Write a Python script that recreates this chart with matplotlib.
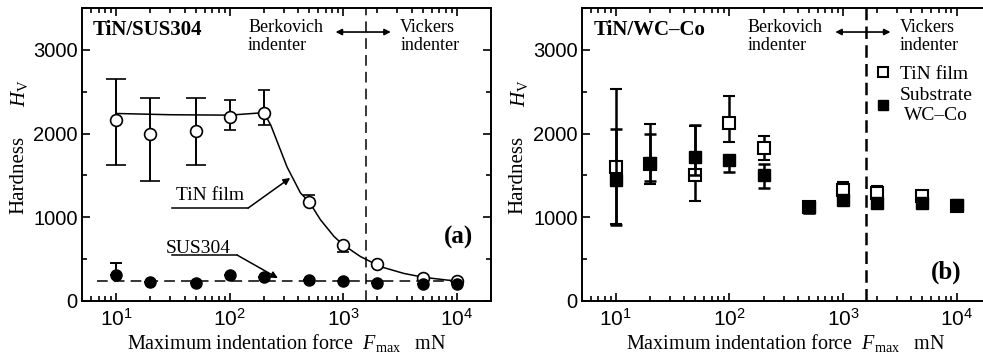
import matplotlib
matplotlib.use("Agg")
import matplotlib.pyplot as plt
from matplotlib.ticker import MultipleLocator, LogLocator, NullFormatter, FuncFormatter
import numpy as np

plt.rcParams['font.family'] = 'Liberation Serif'
plt.rcParams['mathtext.fontset'] = 'custom'
plt.rcParams['mathtext.rm'] = 'Liberation Serif'
plt.rcParams['mathtext.it'] = 'Liberation Serif:italic'
plt.rcParams['mathtext.bf'] = 'Liberation Serif:bold'
plt.rcParams['mathtext.sf'] = 'Liberation Sans'

# Data: maximum indentation force (mN)
force = [10, 20, 50, 100, 200, 500, 1000, 2000, 5000, 10000]

# (a) TiN/SUS304
tin_sus = [2160, 2000, 2030, 2200, 2245, 1180, 670, 440, 280, 240]
tin_sus_lo = [1620, 1435, 1630, 2045, 2105, 1180, 580, 440, 280, 240]
tin_sus_hi = [2650, 2430, 2420, 2405, 2515, 1265, 670, 440, 280, 240]
sus = [305, 230, 210, 305, 285, 250, 240, 220, 200, 200]
sus_hi = [450, 230, 210, 305, 285, 250, 240, 220, 200, 200]

# hand-drawn trend curve
fit_x = [10, 30, 100, 200, 230, 320, 420, 500, 630, 830, 1000, 1420, 2130, 3400, 5100, 8200, 10000]
fit_y = [2240, 2225, 2220, 2250, 2100, 1600, 1290, 1185, 970, 770, 670, 530, 410, 330, 283, 250, 240]
sus_line_x = [6.8, 11000]
sus_line_y = [240, 240]

# (b) TiN/WC-Co
tin_wc = [1600, 1640, 1510, 2130, 1830, 1120, 1320, 1295, 1255, 1140]
tin_wc_lo = [920, 1400, 1200, 1905, 1690, 1120, 1320, 1295, 1255, 1140]
tin_wc_hi = [2530, 2120, 2090, 2450, 1970, 1120, 1420, 1375, 1255, 1140]
wc = [1450, 1645, 1720, 1690, 1500, 1120, 1205, 1165, 1175, 1150]
wc_lo = [905, 1430, 1500, 1545, 1355, 1050, 1205, 1165, 1175, 1150]
wc_hi = [2060, 1990, 2100, 1690, 1640, 1120, 1205, 1165, 1175, 1150]

boundary = 1600  # Berkovich / Vickers switch

W, H = 983, 354
fig = plt.figure(figsize=(W / 100, H / 100), dpi=100)
ax1 = fig.add_axes([82 / W, 1 - 301 / H, 409 / W, 293 / H])
ax2 = fig.add_axes([581.7 / W, 1 - 301 / H, 409 / W, 293 / H])


def err(v, lo, hi):
    return [[a - b for a, b in zip(v, lo)], [b - a for a, b in zip(v, hi)]]


def pow10(v, pos):
    return r'$\mathsf{10^{%d}}$' % int(round(np.log10(v)))


def style_axes(ax):
    ax.set_xscale('log')
    ax.set_xlim(5, 20000)
    ax.set_ylim(0, 3500)
    ax.yaxis.set_major_locator(MultipleLocator(1000))
    ax.yaxis.set_minor_locator(MultipleLocator(500))
    ax.xaxis.set_major_locator(LogLocator(base=10, numticks=10))
    ax.xaxis.set_major_formatter(FuncFormatter(pow10))
    ax.xaxis.set_minor_locator(LogLocator(base=10, subs=range(2, 10), numticks=10))
    ax.xaxis.set_minor_formatter(NullFormatter())
    ax.tick_params(which='both', direction='in', top=True, right=True, width=1.2)
    ax.tick_params(which='major', length=6)
    ax.tick_params(which='minor', length=3.5)
    ax.tick_params(axis='y', labelsize=14.5, pad=3, labelfontfamily='Liberation Sans')
    ax.tick_params(axis='x', labelsize=15, pad=6)
    for s in ax.spines.values():
        s.set_linewidth(1.4)
    ax.text(-0.155, 0.43, 'Hardness', transform=ax.transAxes, rotation=90,
            ha='center', va='center', fontsize=15)
    ax.text(-0.152, 0.71, r'$H_{\mathrm{V}}$', transform=ax.transAxes, rotation=90,
            ha='center', va='center', fontsize=15)
    ax.text(0.5, -0.145, r'Maximum indentation force  $F_{\mathrm{max}}$   mN',
            transform=ax.transAxes, ha='center', va='center', fontsize=14.5)
    ax.text(0.406, 0.902, 'Berkovich\nindenter', transform=ax.transAxes,
            ha='left', va='center', fontsize=13, linespacing=1.05)
    ax.text(0.778, 0.902, 'Vickers\nindenter', transform=ax.transAxes,
            ha='left', va='center', fontsize=13, linespacing=1.05)
    ax.annotate('', xy=(0.755, 0.918), xytext=(0.62, 0.918), xycoords='axes fraction',
                arrowprops=dict(arrowstyle='<|-|>', lw=1.2, color='k', mutation_scale=9,
                                shrinkA=0, shrinkB=0))


# ---- panel (a)
style_axes(ax1)
ax1.axvline(boundary, color='k', lw=1.1, ls=(0, (7, 4)))
ax1.plot(fit_x, fit_y, color='k', lw=1.1)
ax1.plot(sus_line_x, sus_line_y, color='k', lw=1.1, ls=(0, (7, 4)))
ax1.errorbar(force[:3], tin_sus[:3], yerr=err(tin_sus[:3], tin_sus_lo[:3], tin_sus_hi[:3]),
             fmt='o', ms=8.5, mfc='white', mec='k', mew=1.2, ecolor='k', elinewidth=1.4,
             capsize=7, capthick=1.4, zorder=3)
ax1.errorbar(force[3:], tin_sus[3:], yerr=err(tin_sus[3:], tin_sus_lo[3:], tin_sus_hi[3:]),
             fmt='o', ms=8.5, mfc='white', mec='k', mew=1.2, ecolor='k', elinewidth=1.4,
             capsize=4.5, capthick=1.4, zorder=3)
ax1.errorbar(force, sus, yerr=err(sus, sus, sus_hi), fmt='o', ms=8, mfc='k', mec='k',
             ecolor='k', elinewidth=1.4, capsize=4.5, capthick=1.4, zorder=3)

ax1.text(0.027, 0.925, 'TiN/SUS304', transform=ax1.transAxes, ha='left', va='center',
         fontsize=15, fontweight='bold')
ax1.text(0.956, 0.218, '(a)', transform=ax1.transAxes, ha='right', va='center',
         fontsize=18, fontweight='bold')
ax1.text(0.313, 0.36, 'TiN film', transform=ax1.transAxes, ha='center', va='center', fontsize=14)
ax1.plot([0.220, 0.406], [0.317, 0.317], color='k', lw=1.1, transform=ax1.transAxes)
ax1.annotate('', xy=(0.509, 0.42), xytext=(0.406, 0.317), xycoords='axes fraction',
             arrowprops=dict(arrowstyle='-|>', lw=1.1, color='k', mutation_scale=10,
                             shrinkA=0, shrinkB=0))
ax1.text(0.284, 0.18, 'SUS304', transform=ax1.transAxes, ha='center', va='center', fontsize=14)
ax1.plot([0.220, 0.379], [0.157, 0.157], color='k', lw=1.1, transform=ax1.transAxes)
ax1.annotate('', xy=(0.479, 0.078), xytext=(0.379, 0.157), xycoords='axes fraction',
             arrowprops=dict(arrowstyle='-|>', lw=1.1, color='k', mutation_scale=10,
                             shrinkA=0, shrinkB=0))

# ---- panel (b)
style_axes(ax2)
ax2.axvline(boundary, color='k', lw=1.8, ls=(0, (5, 2.5)))
e1 = ax2.errorbar(force, tin_wc, yerr=err(tin_wc, tin_wc_lo, tin_wc_hi), fmt='s', ms=8.5,
                  mfc='white', mec='k', mew=1.5, ecolor='k', elinewidth=1.8,
                  capsize=4, capthick=1.8, zorder=3)
e2 = ax2.errorbar(force, wc, yerr=err(wc, wc_lo, wc_hi), fmt='s', ms=8.5, mfc='k', mec='k',
                  ecolor='k', elinewidth=1.8, capsize=4, capthick=1.8, zorder=4)
ax2.text(0.029, 0.925, 'TiN/WC\u2013Co', transform=ax2.transAxes, ha='left', va='center',
         fontsize=15, fontweight='bold')
ax2.text(0.929, 0.099, '(b)', transform=ax2.transAxes, ha='right', va='center',
         fontsize=18, fontweight='bold')
leg = ax2.legend([e1[0], e2[0]], ['TiN film', 'Substrate\nWC\u2013Co'], loc='upper left',
                 bbox_to_anchor=(0.685, 0.85), frameon=False, fontsize=14,
                 handlelength=0.8, handletextpad=0.45, labelspacing=0.2,
                 borderpad=0.2, markerscale=0.8)
for t in leg.get_texts():
    t.set_multialignment('center')

fig.savefig('out.png', dpi=100)
